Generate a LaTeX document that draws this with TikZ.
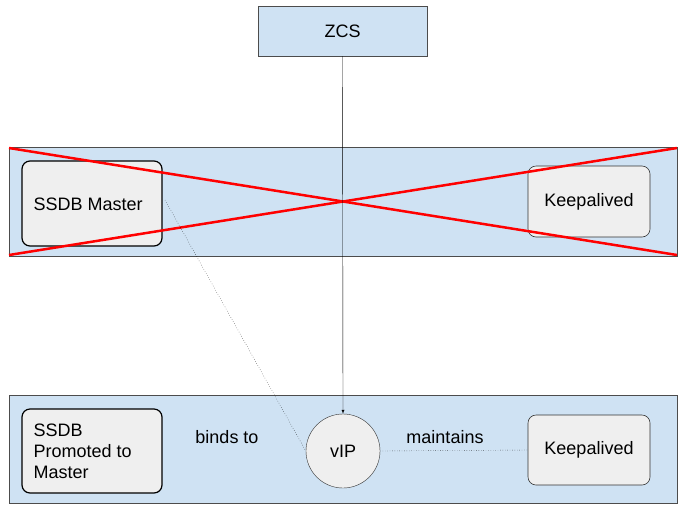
\documentclass[tikz,border=0pt]{standalone}
\usepackage{fontspec}
\setmainfont{Liberation Sans}
\usetikzlibrary{arrows,positioning}

\definecolor{bandblue}{HTML}{CFE2F3}
\definecolor{boxgray}{HTML}{EFEFEF}

\tikzset{band/.style={draw=black!70,fill=bandblue},
         srvbox/.style={draw=black,rounded corners=8pt,fill=boxgray,line width=1.2pt},
         kabox/.style={draw=black!80,rounded corners=8pt,fill=boxgray,line width=0.6pt},
         lbl/.style={font=\fontsize{18}{21}\selectfont}}

\begin{document}
\begin{tikzpicture}[x=1pt,y=-1pt,font=\fontsize{18}{21}\selectfont]

\useasboundingbox (0,0) rectangle (684,512);

% bands
\draw[band] (9,147) rectangle (677,256);
\draw[band] (9,395) rectangle (677,503);

\node[band,minimum width=169pt,minimum height=50pt] (zcs) at (342.5,31) {ZCS};

% top band
\node[srvbox,minimum width=140pt,minimum height=85pt] (master) at (92,203.5) {};
\node[lbl,anchor=west] (mastertxt) at (30,204) {SSDB Master};
\node[kabox,minimum width=122pt,minimum height=71pt] (katop) at (589,201.5) {Keepalived};

\coordinate (x1) at (9,148);
\coordinate (x2) at (677,255);
\coordinate (x3) at (9,255);
\coordinate (x4) at (677,148);
\draw[red,line width=2.5pt] (x1) -- (x2);
\draw[red,line width=2.5pt] (x3) -- (x4);

% bottom band
\node[srvbox,minimum width=140pt,minimum height=84pt] (promoted) at (92,451) {};
\node[lbl,anchor=west,align=left] (promtxt) at (30,451) {SSDB\\Promoted to\\Master};
\node[draw=black!80,fill=boxgray,circle,minimum size=74pt,inner sep=0pt] (vip) at (343,451) {vIP};
\node[kabox,minimum width=122pt,minimum height=70pt] (kabot) at (589,450) {Keepalived};

\node[lbl] (binds) at (227,437) {binds to};
\node[lbl] (maint) at (445,437) {maintains};

% connectors
\draw[-latex] (zcs.south) -- (vip.north);
\coordinate (mfree) at (165,200);
\draw[dotted] (mfree) -- (vip.west);
\draw[dotted] (vip.east) -- (kabot.west);

\end{tikzpicture}
\end{document}
